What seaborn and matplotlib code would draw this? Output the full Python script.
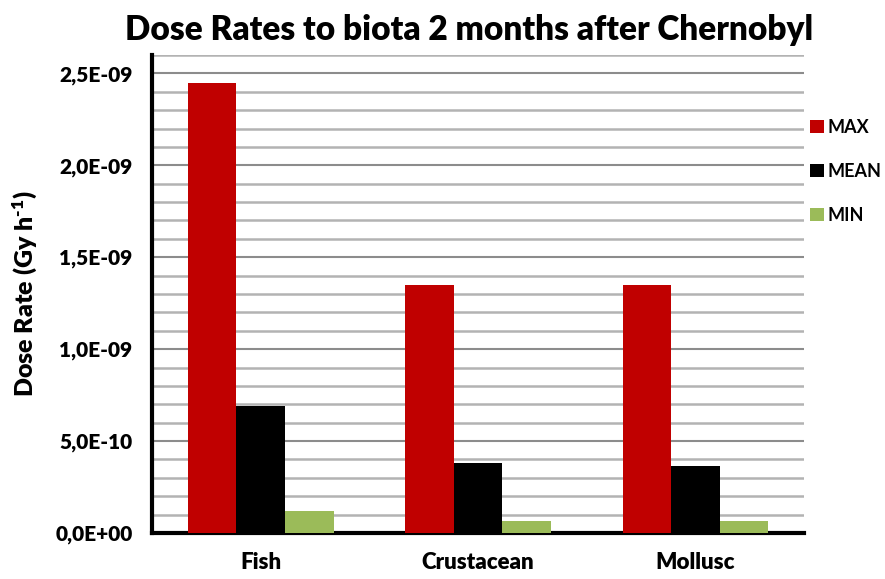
import matplotlib
matplotlib.use("Agg")
import matplotlib.pyplot as plt
import seaborn as sns
import pandas as pd
from matplotlib.ticker import MultipleLocator, FuncFormatter
from matplotlib.patches import Patch

categories = ["Fish", "Crustacean", "Mollusc"]
series = ["MAX", "MEAN", "MIN"]
max_vals = [2.45e-9, 1.35e-9, 1.35e-9]
mean_vals = [0.69e-9, 0.38e-9, 0.365e-9]
min_vals = [0.12e-9, 0.065e-9, 0.065e-9]
colors = ["#C00000", "#000000", "#9BBB59"]

rows = []
for name, vals in zip(series, [max_vals, mean_vals, min_vals]):
    for c, v in zip(categories, vals):
        rows.append({"Category": c, "Series": name, "Value": v})
df = pd.DataFrame(rows)

sns.set_theme(style="white")
plt.rcParams["font.family"] = ["Lato", "DejaVu Sans"]
plt.rcParams["text.color"] = "black"
plt.rcParams["axes.labelcolor"] = "black"
plt.rcParams["xtick.color"] = "black"
plt.rcParams["ytick.color"] = "black"
plt.rcParams["mathtext.fontset"] = "custom"
plt.rcParams["mathtext.bf"] = "Lato:heavy"
plt.rcParams["mathtext.rm"] = "Lato:heavy"
plt.rcParams["mathtext.default"] = "bf"

fig = plt.figure(figsize=(8.85, 5.79), dpi=100)
ax = fig.add_axes([0.1718, 0.0794, 0.9085 - 0.1718, 0.905 - 0.0794])

sns.barplot(data=df, x="Category", y="Value", hue="Series", order=categories,
            hue_order=series, palette=colors, width=0.67, saturation=1,
            ax=ax, legend=False, zorder=3, edgecolor="none", linewidth=0)

ax.set_ylim(0, 2.6e-9)
ax.set_xlim(-0.5, 2.5)
ax.yaxis.set_major_locator(MultipleLocator(5e-10))
ax.yaxis.set_minor_locator(MultipleLocator(1e-10))

def fmt(v, pos):
    s = f"{v:.1E}".replace(".", ",")
    mant, exp = s.split("E")
    sign = exp[0]
    e = int(exp[1:])
    return f"{mant}E{sign}{e:02d}"
ax.yaxis.set_major_formatter(FuncFormatter(fmt))

ax.grid(which="minor", axis="y", color="#b3b3b3", linewidth=1.8, zorder=0)
ax.grid(which="major", axis="y", color="#8c8c8c", linewidth=1.5, zorder=0)
ax.grid(axis="x", visible=False)
ax.set_axisbelow(True)

for s in ["top", "right"]:
    ax.spines[s].set_visible(False)
for s in ["left", "bottom"]:
    ax.spines[s].set_color("black")
    ax.spines[s].set_linewidth(3)

ax.set_xticks([0, 1, 2])
ax.set_xticklabels(categories, fontsize=16, fontweight="heavy")
ax.set_xticks([-0.5, 0.5, 1.5, 2.5], minor=True)
ax.tick_params(axis="x", which="major", length=0, pad=14)
ax.tick_params(axis="x", which="minor", length=6, width=3, color="black", direction="out")
ax.tick_params(axis="y", which="major", length=6, width=3, color="black", direction="out",
               labelsize=15, pad=8)
ax.tick_params(axis="y", which="minor", length=0)
for lbl in ax.get_yticklabels():
    lbl.set_fontweight("heavy")

ax.set_xlabel("")
ax.set_ylabel("Dose Rate (Gy h$^{\\text{-1}}$)", fontsize=18, fontweight="heavy", labelpad=12)

fig.suptitle("Dose Rates to biota 2 months after Chernobyl", fontsize=24, fontweight="heavy",
             x=0.53, y=0.975)

handles = [Patch(facecolor=c, edgecolor="none") for c in colors]
leg = ax.legend(handles, series, loc="upper left", bbox_to_anchor=(0.99, 0.893),
                frameon=False, prop={"size": 13, "weight": "bold"},
                handlelength=0.75, handleheight=0.75,
                handletextpad=0.2, labelspacing=1.5, borderaxespad=0.3)

fig.savefig("out.png", dpi=100)
